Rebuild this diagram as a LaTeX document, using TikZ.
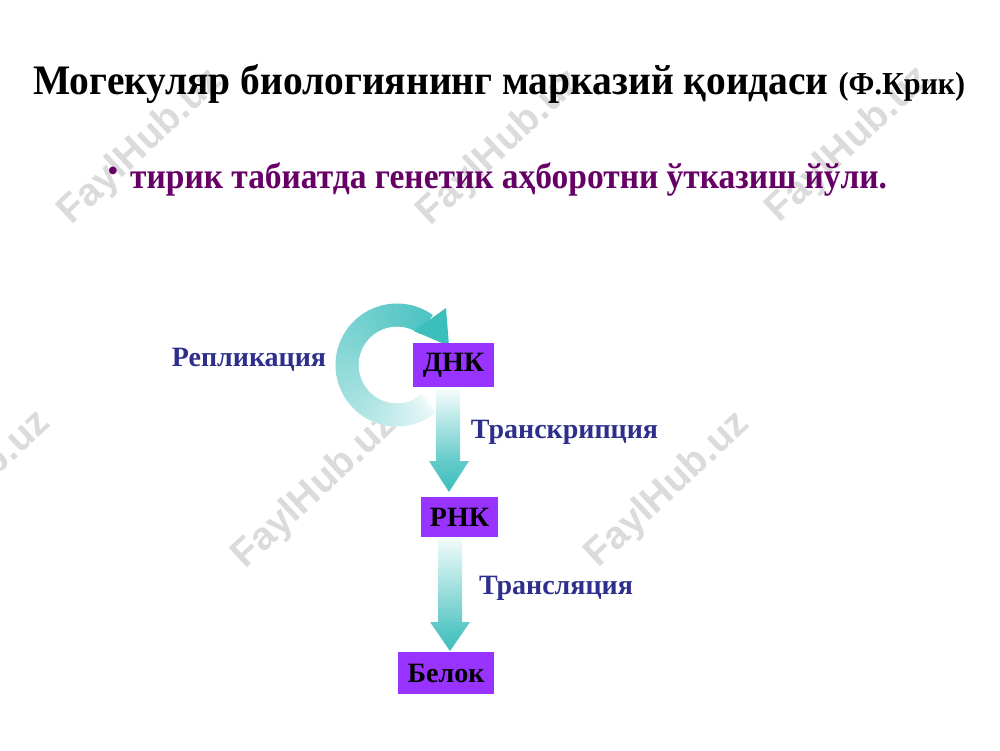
\documentclass[tikz,border=0pt]{standalone}
\usepackage{fontspec}
\setmainfont{Liberation Serif}
\newfontfamily\wmfont{Liberation Sans}
\usetikzlibrary{calc}
\definecolor{arr}{RGB}{60,190,188}
\definecolor{boxfill}{RGB}{153,51,255}
\definecolor{lblblue}{RGB}{46,46,140}
\definecolor{subpurple}{RGB}{102,0,102}
\begin{document}
\begin{tikzpicture}[x=1pt,y=1pt,
  wm/.style={rotate=43, text=black!14, inner sep=0, font=\wmfont\bfseries\fontsize{39}{39}\selectfont},
  lbl/.style={text=lblblue, inner sep=0, font=\bfseries\fontsize{28}{30}\selectfont},
  gbox/.style={fill=boxfill, draw=none, inner sep=0, text=black, font=\bfseries\fontsize{28}{30}\selectfont},
  band/.style={top color=arr!6, bottom color=arr!80},
  head/.style={top color=arr!80, bottom color=arr}]
\useasboundingbox (0,0) rectangle (1000,-750);
\fill[white] (0,0) rectangle (1000,-750);
% watermarks
\begin{scope}
\clip (0,0) rectangle (1000,-750);
\node[wm] (wm1) at (141,-147) {FaylHub.uz};
\node[wm] (wm2) at (500,-148) {FaylHub.uz};
\node[wm] (wm3) at (849,-145) {FaylHub.uz};
\node[wm] (wm4) at (-31,-489) {FaylHub.uz};
\node[wm] (wm5) at (315,-491) {FaylHub.uz};
\node[wm] (wm6) at (668,-490) {FaylHub.uz};
\end{scope}
% title
\node[anchor=base west, inner sep=0] (title) at (33,-94)
  {\resizebox{932pt}{\height}{\fontsize{42}{48}\selectfont\bfseries Могекуляр биологиянинг марказий қоидаси {\fontsize{32}{38}\selectfont(Ф.Крик)}}};
\node[text=subpurple, inner sep=0] (bullet) at (113,-174) {\fontsize{32}{32}\selectfont •};
\node[anchor=base west, inner sep=0, text=subpurple] (sub) at (130,-188)
  {\resizebox{757pt}{\height}{\fontsize{36}{42}\selectfont\bfseries тирик табиатда генетик аҳборотни ўтказиш йўли.}};
% replication loop
\coordinate (C) at (397,-365);
\foreach \a in {-50,-53,...,-302} {
  \pgfmathsetmacro\p{8+82*((-50-\a)/252)^0.75}
  \draw[line width=23pt, color=arr!\p] ($(C)+(\a:50pt)$) arc[start angle=\a, end angle=\a-4, radius=50pt];
}
\coordinate (h1) at (446,-308);
\coordinate (h2) at (414,-331);
\coordinate (h3) at (449,-346);
\fill[arr] (h1) -- (h2) -- (h3) -- cycle;
% vertical arrows
\coordinate (a1s) at (436,-390);
\coordinate (a1e) at (460,-462);
\shade[band] (a1s) rectangle (a1e);
\coordinate (t1a) at (429,-461);
\coordinate (t1b) at (469,-461);
\coordinate (t1c) at (449,-492);
\shade[head] (t1a) -- (t1b) -- (t1c) -- cycle;
\coordinate (a2s) at (438,-538);
\coordinate (a2e) at (462,-624);
\shade[band] (a2s) rectangle (a2e);
\coordinate (t2a) at (430,-622);
\coordinate (t2b) at (470,-622);
\coordinate (t2c) at (450,-651);
\shade[head] (t2a) -- (t2b) -- (t2c) -- cycle;
% boxes
\node[gbox, minimum width=81pt, minimum height=44pt] (dnk) at (453.5,-365) {ДНК};
\node[gbox, minimum width=77pt, minimum height=40pt] (rnk) at (459.5,-517) {РНК};
\node[gbox, minimum width=96pt, minimum height=42pt] (belok) at (446,-673) {Белок};
% labels
\node[lbl] (repl) at (249,-360) {Репликация};
\node[lbl] (trans) at (564.5,-432) {Транскрипция};
\node[lbl] (transl) at (556,-588) {Трансляция};
\end{tikzpicture}
\end{document}
